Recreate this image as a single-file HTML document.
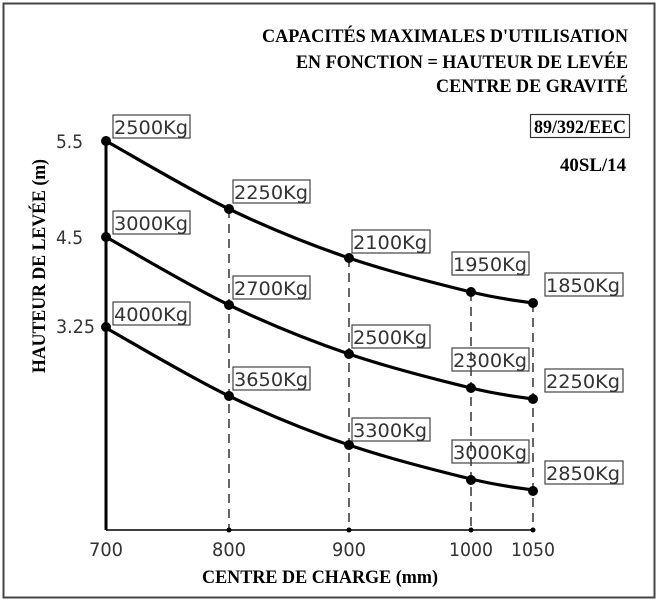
<!DOCTYPE html>
<html><head><meta charset="utf-8"><style>
body{margin:0;background:#fff;}
svg{display:block;}
.t{font-family:"Liberation Serif",serif;font-weight:bold;font-size:19px;}
.l{font-family:"DejaVu Sans",sans-serif;font-size:19px;fill:#333;}
</style></head><body>
<svg width="658" height="600" viewBox="0 0 658 600" xmlns="http://www.w3.org/2000/svg">
<rect x="3.5" y="3.5" width="651" height="594" fill="#fff" stroke="#444" stroke-width="2"/>
<g class="t" text-anchor="end">
<text x="628" y="42" textLength="366" lengthAdjust="spacingAndGlyphs">CAPACITÉS MAXIMALES D'UTILISATION</text>
<text x="628" y="68" textLength="332" lengthAdjust="spacingAndGlyphs">EN FONCTION = HAUTEUR DE LEVÉE</text>
<text x="628" y="92" textLength="192" lengthAdjust="spacingAndGlyphs">CENTRE DE GRAVITÉ</text>
<text x="626" y="133" textLength="92" lengthAdjust="spacingAndGlyphs">89/392/EEC</text>
<text x="626" y="171" textLength="66" lengthAdjust="spacingAndGlyphs">40SL/14</text>
</g>
<rect x="530.5" y="114.5" width="99" height="23" fill="none" stroke="#333" stroke-width="1.2"/>
<text class="t" x="320" y="583" text-anchor="middle" textLength="236" lengthAdjust="spacingAndGlyphs">CENTRE DE CHARGE (mm)</text>
<text class="t" transform="translate(45,266) rotate(-90)" text-anchor="middle" textLength="214" lengthAdjust="spacingAndGlyphs">HAUTEUR DE LEVÉE (m)</text>
<line x1="106" y1="141" x2="106" y2="530" stroke="#000" stroke-width="3"/>
<line x1="106" y1="530" x2="533" y2="530" stroke="#000" stroke-width="1.5"/>
<g stroke="#000" stroke-width="1.2" stroke-dasharray="9,6">
<line x1="229" y1="209" x2="229" y2="530"/>
<line x1="349" y1="258" x2="349" y2="530"/>
<line x1="471" y1="292" x2="471" y2="530"/>
<line x1="533" y1="303" x2="533" y2="530"/>
</g>
<g fill="#000"><circle cx="229" cy="530" r="2.5"/><circle cx="349" cy="530" r="2.5"/><circle cx="471" cy="530" r="2.5"/><circle cx="533" cy="530" r="2.5"/></g>
<g class="l" text-anchor="middle">
<text x="106" y="556" textLength="34" lengthAdjust="spacingAndGlyphs">700</text><text x="229" y="556" textLength="34" lengthAdjust="spacingAndGlyphs">800</text><text x="349" y="556" textLength="34" lengthAdjust="spacingAndGlyphs">900</text><text x="471" y="556" textLength="44" lengthAdjust="spacingAndGlyphs">1000</text><text x="533" y="556" textLength="44" lengthAdjust="spacingAndGlyphs">1050</text>
</g>
<g class="l">
<text x="56" y="148" textLength="27" lengthAdjust="spacingAndGlyphs">5.5</text><text x="56" y="244" textLength="27" lengthAdjust="spacingAndGlyphs">4.5</text><text x="56" y="333" textLength="39" lengthAdjust="spacingAndGlyphs">3.25</text>
</g>
<g fill="none" stroke="#000" stroke-width="3.2">
<path d="M106,141 C126.5,152.3 188.5,189.5 229,209 C269.5,228.5 308.7,244.2 349,258 C389.3,271.8 440.3,284.5 471,292 C501.7,299.5 522.7,301.2 533,303"/>
<path d="M106,141 C126.5,152.3 188.5,189.5 229,209 C269.5,228.5 308.7,244.2 349,258 C389.3,271.8 440.3,284.5 471,292 C501.7,299.5 522.7,301.2 533,303" transform="translate(0,96)"/>
<path d="M106,141 C126.5,152.3 188.5,189.5 229,209 C269.5,228.5 308.7,244.2 349,258 C389.3,271.8 440.3,284.5 471,292 C501.7,299.5 522.7,301.2 533,303" transform="translate(0,187)"/>
</g>
<g fill="#000">
<circle cx="106" cy="141" r="5"/><circle cx="229" cy="209" r="5"/><circle cx="349" cy="258" r="5"/><circle cx="471" cy="292" r="5"/><circle cx="533" cy="303" r="5"/>
<circle cx="106" cy="237" r="5"/><circle cx="229" cy="305" r="5"/><circle cx="349" cy="354" r="5"/><circle cx="471" cy="388" r="5"/><circle cx="533" cy="399" r="5"/>
<circle cx="106" cy="327" r="5"/><circle cx="229" cy="396" r="5"/><circle cx="349" cy="445" r="5"/><circle cx="471" cy="480" r="5"/><circle cx="533" cy="491" r="5"/>
</g>
<g fill="none" stroke="#444" stroke-width="1.2">
<rect x="113" y="115" width="77" height="23"/><rect x="233" y="180" width="77" height="23"/><rect x="352" y="230" width="78" height="23"/><rect x="452" y="252" width="77" height="23"/><rect x="545" y="273" width="78" height="23"/>
<rect x="113" y="211" width="77" height="23"/><rect x="233" y="276" width="77" height="23"/><rect x="352" y="325" width="78" height="23"/><rect x="452" y="348" width="77" height="23"/><rect x="545" y="369" width="78" height="23"/>
<rect x="113" y="302" width="77" height="23"/><rect x="233" y="367" width="77" height="23"/><rect x="352" y="418" width="78" height="23"/><rect x="452" y="440" width="77" height="23"/><rect x="545" y="461" width="78" height="23"/>
</g>
<g class="l">
<text x="114" y="134" textLength="74" lengthAdjust="spacingAndGlyphs">2500Kg</text><text x="234" y="199" textLength="74" lengthAdjust="spacingAndGlyphs">2250Kg</text><text x="353" y="249" textLength="74" lengthAdjust="spacingAndGlyphs">2100Kg</text><text x="453" y="271" textLength="74" lengthAdjust="spacingAndGlyphs">1950Kg</text><text x="546" y="292" textLength="74" lengthAdjust="spacingAndGlyphs">1850Kg</text>
<text x="114" y="230" textLength="74" lengthAdjust="spacingAndGlyphs">3000Kg</text><text x="234" y="295" textLength="74" lengthAdjust="spacingAndGlyphs">2700Kg</text><text x="353" y="344" textLength="74" lengthAdjust="spacingAndGlyphs">2500Kg</text><text x="453" y="367" textLength="74" lengthAdjust="spacingAndGlyphs">2300Kg</text><text x="546" y="388" textLength="74" lengthAdjust="spacingAndGlyphs">2250Kg</text>
<text x="114" y="321" textLength="74" lengthAdjust="spacingAndGlyphs">4000Kg</text><text x="234" y="386" textLength="74" lengthAdjust="spacingAndGlyphs">3650Kg</text><text x="353" y="437" textLength="74" lengthAdjust="spacingAndGlyphs">3300Kg</text><text x="453" y="459" textLength="74" lengthAdjust="spacingAndGlyphs">3000Kg</text><text x="546" y="480" textLength="74" lengthAdjust="spacingAndGlyphs">2850Kg</text>
</g>
</svg>
</body></html>
